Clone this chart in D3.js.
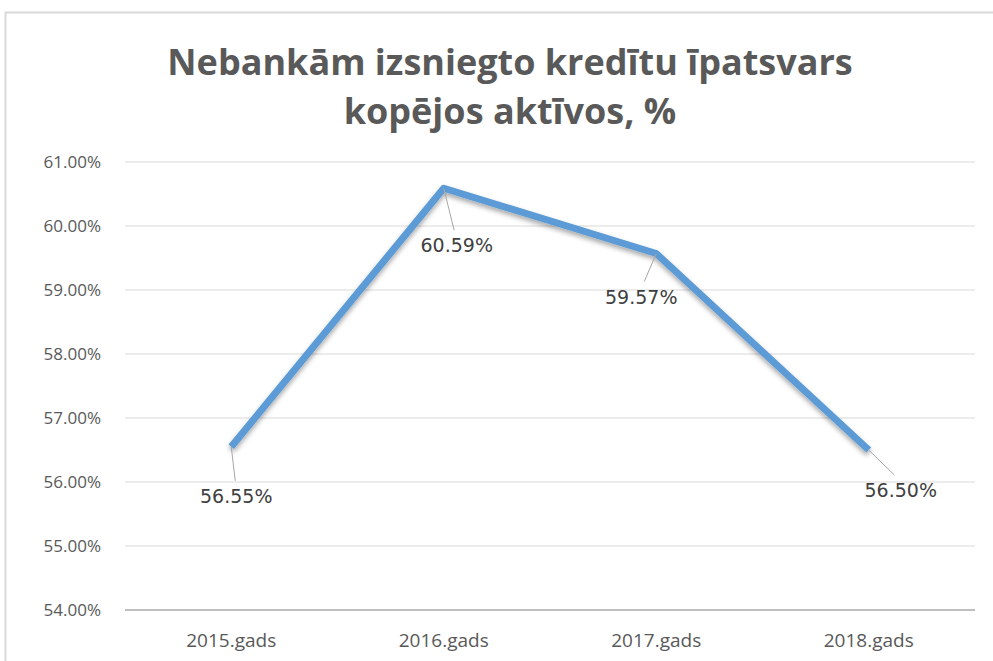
<html>
<head>
<meta charset="utf-8">
<title>Nebankām izsniegto kredītu īpatsvars</title>
<style>
  body { margin: 0; background: #fff; }
  text { font-family: "Open Sans", "DejaVu Sans", sans-serif; }
</style>
</head>
<body>
<script src="https://d3js.org/d3.v7.min.js"></script>
<script>
var years = ["2015.gads", "2016.gads", "2017.gads", "2018.gads"];
var values = [56.55, 60.59, 59.57, 56.50];
var yTicks = [54, 55, 56, 57, 58, 59, 60, 61];
var titleLines = ["Nebankām izsniegto kredītu īpatsvars", "kopējos aktīvos, %"];

// where each data label sits relative to its point
var labelOffsets = [[5, 50], [13, 58], [-15, 44], [32, 41]];

var w = 993, h = 661;
var svg = d3.select('body').append('svg')
    .attr('width', w)
    .attr('height', h);

// chart frame
svg.append('rect')
    .attr('x', 5.5).attr('y', 12.5)
    .attr('width', w + 10).attr('height', h + 10)
    .attr('fill', 'none')
    .attr('stroke', '#d9d9d9')
    .attr('stroke-width', 2);

var x = d3.scaleBand().domain(years).range([125, 975]);
var y = d3.scaleLinear().domain([54, 61]).range([610, 162]);

svg.selectAll('.title')
    .data(titleLines)
    .enter().append('text')
    .attr('x', 510)
    .attr('y', (d, i) => 75 + i * 49)
    .attr('text-anchor', 'middle')
    .attr('font-size', 36)
    .attr('font-weight', 'bold')
    .attr('fill', '#595959')
    .text(d => d);

// gridlines
svg.selectAll('.grid')
    .data(yTicks)
    .enter().append('line')
    .attr('x1', 125).attr('x2', 975)
    .attr('y1', d => y(d)).attr('y2', d => y(d))
    .attr('stroke', d => d === 54 ? '#bfbfbf' : '#d9d9d9')
    .attr('stroke-width', d => d === 54 ? 2 : 1);

var yAxis = svg.append('g')
    .attr('transform', 'translate(104,0)')
    .call(d3.axisLeft(y).tickValues(yTicks).tickSize(0).tickFormat(d => d.toFixed(2) + '%'));
yAxis.select('.domain').remove();
yAxis.selectAll('text')
    .attr('font-size', 17)
    .attr('fill', '#595959')
    .style('font-family', '"Open Sans", sans-serif');

var xAxis = svg.append('g')
    .attr('transform', 'translate(0,630)')
    .call(d3.axisBottom(x).tickSize(0));
xAxis.select('.domain').remove();
xAxis.selectAll('text')
    .attr('font-size', 19)
    .attr('fill', '#595959')
    .style('font-family', '"Open Sans", sans-serif');

var cx = (d, i) => x(years[i]) + x.bandwidth() / 2;

var defs = svg.append('defs');
var f = defs.append('filter').attr('id', 'shadow').attr('x', '-10%').attr('y', '-10%').attr('width', '120%').attr('height', '120%');
f.append('feDropShadow').attr('dx', 0).attr('dy', 3).attr('stdDeviation', 2.5)
    .attr('flood-color', '#000').attr('flood-opacity', 0.35);

var line = d3.line().x(cx).y(d => y(d));

svg.append('path')
    .datum(values)
    .attr('d', line)
    .attr('fill', 'none')
    .attr('stroke', '#5b9bd5')
    .attr('stroke-width', 7)
    .attr('stroke-linejoin', 'round')
    .attr('filter', 'url(#shadow)');

// leader lines
svg.selectAll('.leader')
    .data(values)
    .enter().append('line')
    .attr('x1', cx)
    .attr('y1', d => y(d))
    .attr('x2', (d, i) => cx(d, i) + labelOffsets[i][0] * 0.8)
    .attr('y2', (d, i) => y(d) + labelOffsets[i][1] - 16)
    .attr('stroke', '#a6a6a6')
    .attr('stroke-width', 1);

svg.selectAll('.lbl')
    .data(values)
    .enter().append('text')
    .attr('x', (d, i) => cx(d, i) + labelOffsets[i][0])
    .attr('y', (d, i) => y(d) + labelOffsets[i][1] + 6)
    .attr('text-anchor', 'middle')
    .attr('font-size', 19)
    .attr('fill', '#404040')
    .style('font-family', '"DejaVu Sans", sans-serif')
    .text(d => d.toFixed(2) + '%');
</script>
</body>
</html>
